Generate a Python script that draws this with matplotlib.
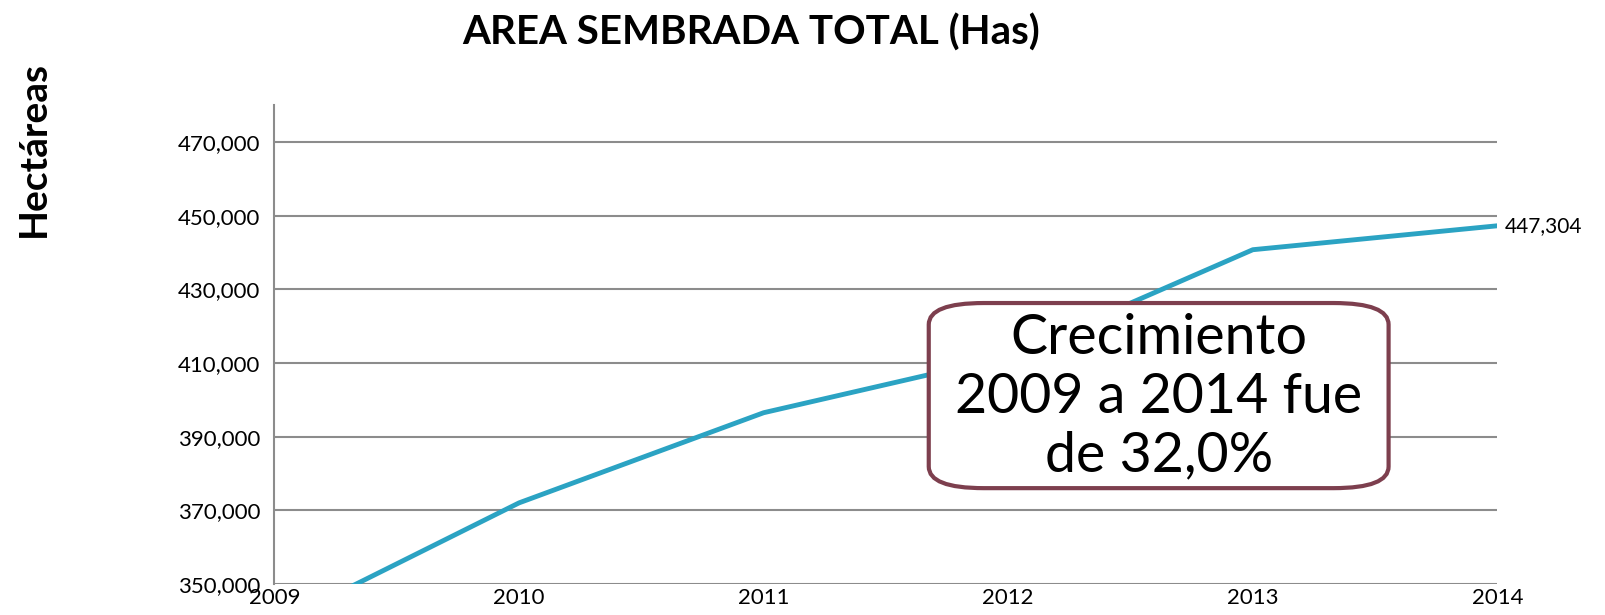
import matplotlib
matplotlib.use("Agg")
import matplotlib.pyplot as plt
from matplotlib.patches import FancyBboxPatch
from matplotlib.ticker import FuncFormatter

years = [2009, 2010, 2011, 2012, 2013, 2014]
hectareas = [338867, 372000, 396500, 411800, 440800, 447304]
title = "AREA SEMBRADA TOTAL (Has)"
ylabel = "Hectáreas"
note = "Crecimiento\n2009 a 2014 fue\nde 32,0%"

line_color = "#2ba3c3"
grid_color = "#8c8c8c"
box_color = "#7d3f4e"

plt.rcParams['font.family'] = ['Lato', 'DejaVu Sans']

fig = plt.figure(figsize=(16.06, 6.15), dpi=100)
ax = fig.add_axes([0.1709, 0.0507, 0.7615, 0.7778])

ax.plot(years, hectareas, color=line_color, linewidth=3.5, solid_capstyle='butt', zorder=3)
ax.set_xlim(2009, 2014)
ax.set_ylim(350000, 480000)
ax.set_yticks(range(350000, 480000, 20000))
ax.set_xticks(years)
ax.yaxis.set_major_formatter(FuncFormatter(lambda v, p: f"{int(v):,}"))
ax.tick_params(length=0, labelsize=16, colors='black')
ax.tick_params(axis='y', pad=10)
ax.tick_params(axis='x', pad=3)
ax.grid(axis='y', color=grid_color, linewidth=1.5)
ax.set_axisbelow(True)
for s in ['top', 'right', 'bottom']:
    ax.spines[s].set_visible(False)
ax.spines['left'].set_color(grid_color)
ax.spines['left'].set_linewidth(1.5)

# last value label
ax.annotate(f"{hectareas[-1]:,}", xy=(years[-1], hectareas[-1]), xytext=(5, 0),
            textcoords='offset points', va='center', ha='left', fontsize=15)

# note box
box = FancyBboxPatch((0.535, 0.2), 0.376, 0.387, transform=ax.transAxes,
                     boxstyle="round,pad=0,rounding_size=0.045", mutation_aspect=1.0,
                     facecolor='white', edgecolor=box_color, linewidth=3, zorder=4)
ax.add_patch(box)
ax.text(0.723, 0.39, note, transform=ax.transAxes, ha='center', va='center',
        fontsize=40, linespacing=1.18, zorder=5)

fig.text(0.4676, 0.947, title, ha='center', va='center', fontsize=29, fontweight='bold')
fig.text(0.021, 0.757, ylabel, ha='center', va='center', rotation=90, fontsize=28, fontweight='bold')

fig.savefig("out.png", dpi=100)
